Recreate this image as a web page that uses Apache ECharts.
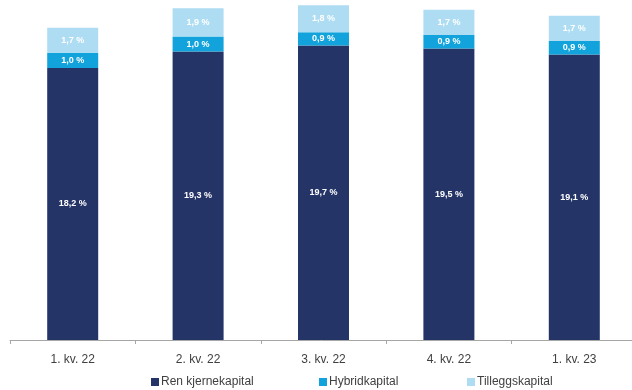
<!DOCTYPE html>
<html>
<head>
<meta charset="utf-8">
<script src="https://cdn.jsdelivr.net/npm/echarts@6/dist/echarts.min.js"></script>
<style>
html,body{margin:0;padding:0;background:#fff;}
#c{width:632px;height:390px;}
</style>
</head>
<body>
<div id="c"></div>
<script>
var categories = ['1. kv. 22', '2. kv. 22', '3. kv. 22', '4. kv. 22', '1. kv. 23'];
var seriesNames = ['Ren kjernekapital', 'Hybridkapital', 'Tilleggskapital'];
var renKjernekapital = [18.2, 19.3, 19.7, 19.5, 19.1];
var hybridkapital = [1.0, 1.0, 0.9, 0.9, 0.9];
var tilleggskapital = [1.7, 1.9, 1.8, 1.7, 1.7];

var colors = ['#243467', '#12A3DC', '#AEDDF3'];
var values = [renKjernekapital, hybridkapital, tilleggskapital];

function fmt(p) { return p.value.toFixed(1).replace('.', ',') + ' %'; }

var series = seriesNames.map(function (name, i) {
  return {
    name: name,
    type: 'bar',
    stack: 'total',
    barWidth: 51,
    data: values[i],
    itemStyle: { color: colors[i] },
    label: {
      show: true,
      position: 'inside',
      formatter: fmt,
      color: '#ffffff',
      fontFamily: 'Liberation Sans',
      fontWeight: 'bold',
      fontSize: 9
    }
  };
});

var legendLefts = [146, 314, 462];
var legends = seriesNames.map(function (name, i) {
  return {
    data: [name],
    left: legendLefts[i],
    top: 371,
    icon: 'rect',
    itemWidth: 8,
    itemHeight: 8,
    textStyle: { color: '#404040', fontFamily: 'Liberation Sans', fontSize: 12, padding: [0, 0, 0, -3] }
  };
});

var chart = echarts.init(document.getElementById('c'), null, { renderer: 'canvas' });
chart.setOption({
  animation: false,
  grid: { left: 10, width: 627, top: 0, bottom: 50, containLabel: false, outerBoundsMode: 'none' },
  legend: legends,
  xAxis: {
    type: 'category',
    data: categories,
    axisLine: { lineStyle: { color: '#A6A6A6', width: 1 } },
    axisTick: { show: true, length: 4, lineStyle: { color: '#A6A6A6' } },
    axisLabel: { color: '#404040', fontFamily: 'Liberation Sans', fontSize: 12, margin: 14 }
  },
  yAxis: {
    type: 'value',
    min: 0,
    max: 22.75,
    show: false,
    splitLine: { show: false }
  },
  series: series
});
</script>
</body>
</html>
